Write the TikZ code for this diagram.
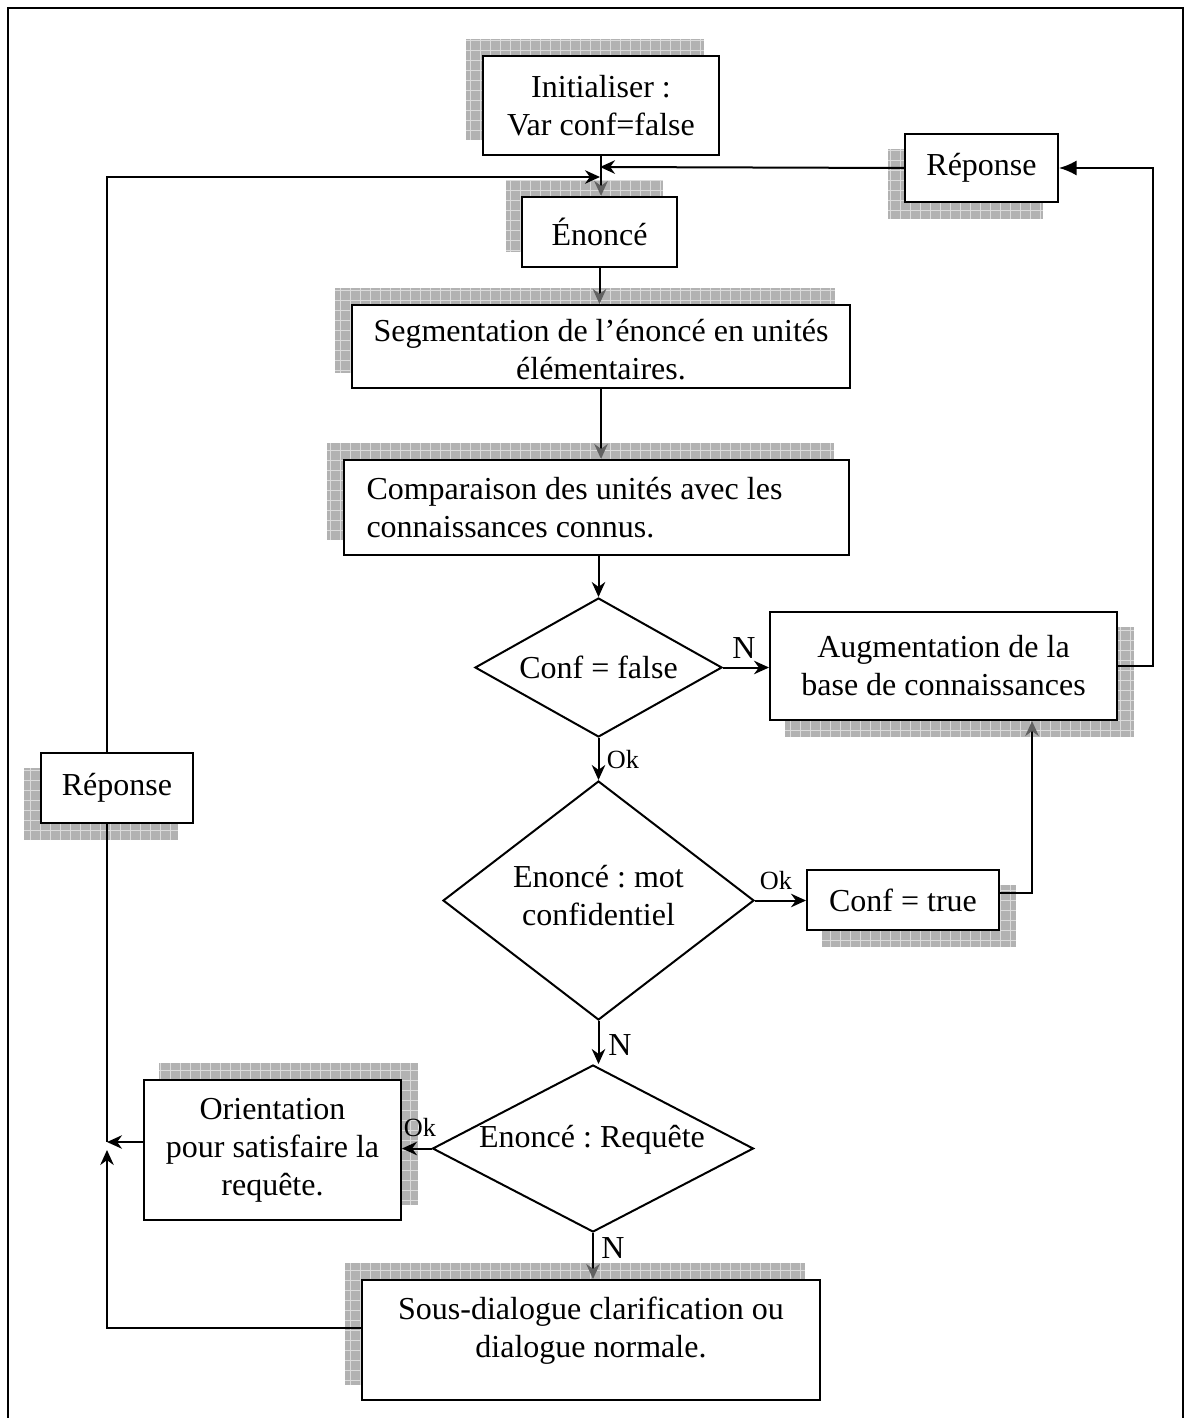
\documentclass[tikz,border=0pt]{standalone}
\usepackage{fontspec}
\setmainfont{Liberation Serif}
\usetikzlibrary{arrows.meta,shapes.geometric,backgrounds,calc}
\frenchspacing

\definecolor{shadowgray}{gray}{0.70}
\definecolor{shadowline}{gray}{0.86}
\definecolor{headgray}{gray}{0.38}

\newcommand\mainfs{\fontsize{12.8}{15.2}\selectfont}
\newcommand\smallfs{\fontsize{10.5}{12}\selectfont}

\tikzset{
  boxdim/.style 2 args={minimum width=#1*0.4pt, minimum height=#2*0.4pt},
  flowbox/.style={draw, line width=0.8pt, fill=white, align=center, inner sep=0pt, font=\mainfs},
  decision/.style={draw, diamond, line width=0.8pt, fill=white, inner sep=0pt},
  conn/.style={line width=0.8pt, -{Stealth[length=6pt,width=5.4pt]}},
  conngray/.style={line width=0.8pt, -{Stealth[length=6pt,width=5.4pt,color=headgray]}},
  plainline/.style={line width=0.8pt},
  tag/.style={font=\smallfs, inner sep=0pt},
  bigtag/.style={font=\mainfs, inner sep=0pt},
  boxtext/.style={font=\mainfs, align=center, inner sep=0pt},
}

% checkered drop shadow behind a box, offset by (#2,#3) in drawing units
\newcommand\castshadow[3]{%
  \begin{scope}[on background layer]
    \coordinate (shA) at ([shift={(#2,#3)}]#1.south west);
    \coordinate (shB) at ([shift={(#2,#3)}]#1.north east);
    \fill[shadowgray] (shA) rectangle (shB);
    \begin{scope}
      \clip (shA) rectangle (shB);
      \draw[shadowline, line width=0.3pt, step=4pt] (shA) grid (shB);
    \end{scope}
  \end{scope}}

\begin{document}
\begin{tikzpicture}[x=0.4pt, y=-0.4pt]
\useasboundingbox (0,0) rectangle (1184,1418);

% outer frame, open at the bottom
\draw[line width=0.9pt] (8,1418) -- (8,8) -- (1183,8) -- (1183,1418);

% boxes
\node[flowbox, boxdim={236}{99}] (init) at (601,105.5) {Initialiser :\\Var conf=false};
\node[flowbox, boxdim={155}{70}] (enonce) at (599.5,232) {Énoncé};
\node[flowbox, boxdim={498}{83}] (segm) at (601,346.5) {};
\node[boxtext] (segmtxt) at (601,350) {Segmentation de l’énoncé en unités\\élémentaires.};
\node[flowbox, boxdim={505}{95}] (comp) at (596.5,507.5) {};
\node[font=\mainfs, align=left, inner sep=0pt, anchor=west] (comptxt) at (366,508) {Comparaison des unités avec les\\connaissances connus.};
\node[flowbox, boxdim={347}{108}] (augm) at (943.5,666) {Augmentation de la\\base de connaissances};
\node[flowbox, boxdim={192}{60}] (conft) at (903,900) {Conf = true};
\node[flowbox, boxdim={257}{140}] (orient) at (272.5,1150) {Orientation\\pour satisfaire la\\requête.};
\node[flowbox, boxdim={458}{120}] (sous) at (591,1340) {};
\node[boxtext] (soustxt) at (591,1331) {Sous-dialogue clarification ou\\dialogue normale.};
\node[flowbox, boxdim={153}{68}] (rep1) at (981.5,168) {Réponse};
\node[flowbox, boxdim={152}{70}] (rep2) at (117,788) {Réponse};

% decisions (shape and caption kept apart so the caption cannot widen the shape)
\node[decision, boxdim={247}{139}] (d1) at (598.5,667.5) {};
\node[boxtext] (d1txt) at (598.5,667) {Conf = false};
\node[decision, boxdim={311}{239}] (d2) at (598.5,900.5) {};
\node[boxtext] (d2txt) at (598.5,896) {Enoncé : mot\\confidentiel};
\node[decision, boxdim={321}{167}] (d3) at (593,1148.5) {};
\node[boxtext] (d3txt) at (592,1140) {Enoncé : Requête};

% shadows
\castshadow{init}{-16}{-16}
\castshadow{enonce}{-15}{-16}
\castshadow{segm}{-16}{-16}
\castshadow{comp}{-16}{-16}
\castshadow{augm}{16}{16}
\castshadow{conft}{16}{16}
\castshadow{orient}{16}{-16}
\castshadow{sous}{-16}{-16}
\castshadow{rep1}{-16}{16}
\castshadow{rep2}{-16}{16}

% junction points
\coordinate (mR) at (600,167);
\coordinate (mL) at (600,177);
\coordinate (lx) at (107,177);
\coordinate (cR) at (1032,893);
\coordinate (aR) at (1153,667);
\coordinate (jn) at (107,1142);
\coordinate (jnu) at (107,1150);
\coordinate (bl) at (107,1328);

% connectors
\draw[conn] (rep1.west) -- (mR);
\draw[conn] (lx |- rep2.north) -- (lx) -- (mL);
\draw[conngray] (init.south) -- (init.south |- enonce.north);
\draw[conngray] (enonce.south) -- (enonce.south |- segm.north);
\draw[conngray] (segm.south) -- (segm.south |- comp.north);
\draw[conn] (comp.south -| d1.north) -- (d1.north);
\draw[conn] (d1.east) -- (d1.east -| augm.west);
\draw[conn] (d1.south) -- (d2.north);
\draw[conn] (d2.east) -- (d2.east -| conft.west);
\draw[conngray] (conft.east |- cR) -- (cR) -- (cR |- augm.south);
\draw[plainline, -{Latex[length=7pt,width=6pt]}] (augm.east) -- (aR |- augm.east) -- (aR |- rep1.east) -- (rep1.east);
\draw[conn] (d2.south) -- (d2.south |- d3.north);
\draw[conn] (d3.west) -- (d3.west -| orient.east);
\draw[conn] (orient.west |- jn) -- (jn);
\draw[plainline] (lx |- rep2.south) -- (jn);
\draw[conngray] (d3.south) -- (d3.south |- sous.north);
\draw[conn] (sous.west |- bl) -- (bl) -- (jnu);

% branch labels
\node[bigtag] (lN1) at (744,648) {N};
\node[tag] (lOk1) at (623,760) {Ok};
\node[tag] (lOk2) at (776,881) {Ok};
\node[bigtag] (lN2) at (620,1045) {N};
\node[tag] (lOk3) at (420,1128) {Ok};
\node[bigtag] (lN3) at (613,1248) {N};
\end{tikzpicture}
\end{document}
